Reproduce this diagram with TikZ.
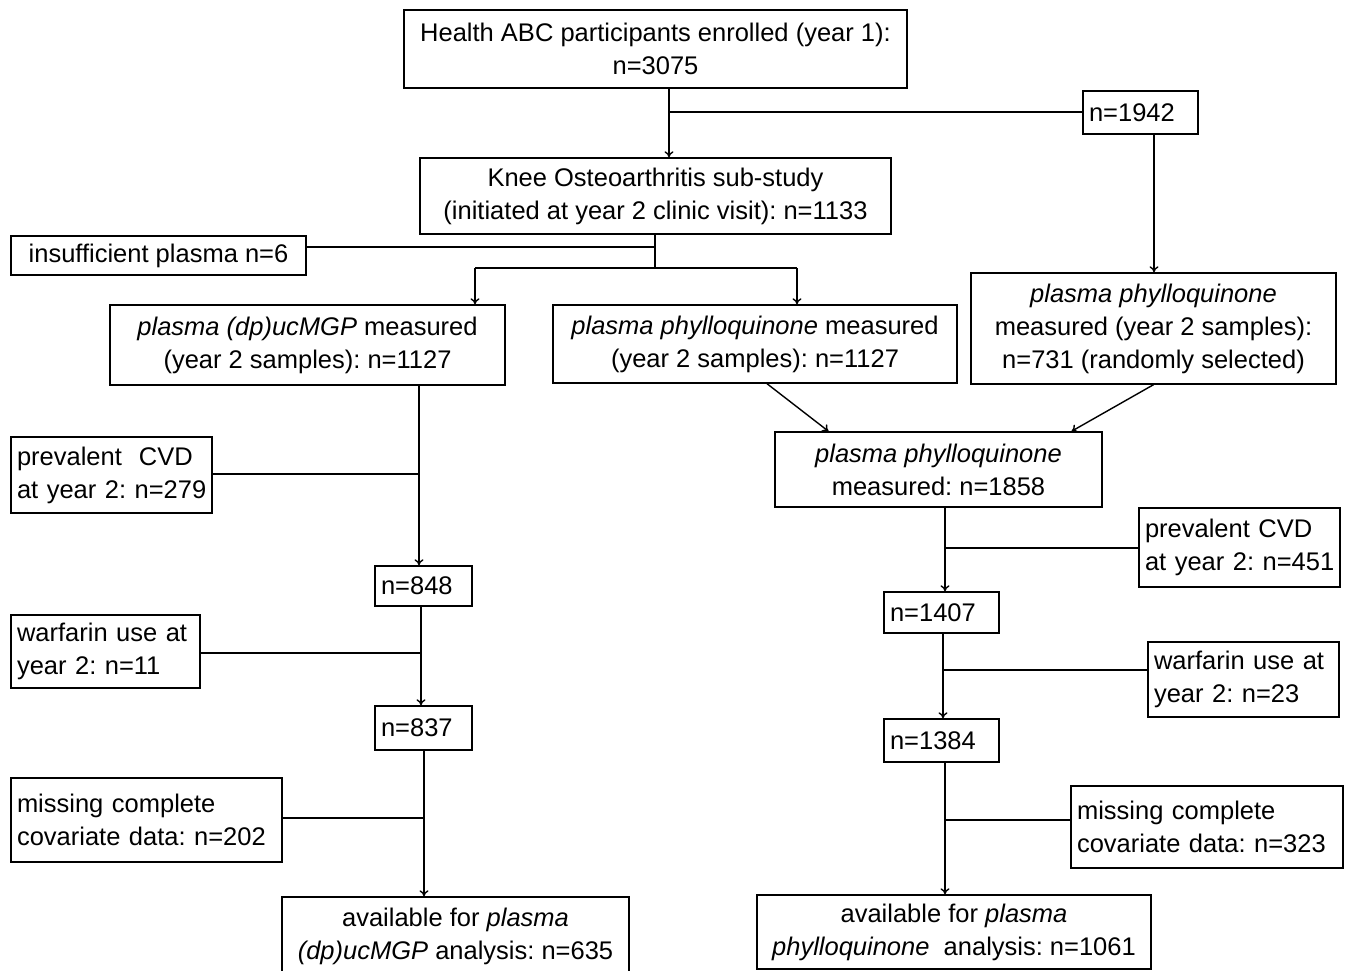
\documentclass[tikz,border=0pt]{standalone}
\usepackage{fontspec}
\setmainfont{Liberation Sans}
\usetikzlibrary{calc,arrows.meta}
\frenchspacing
\begin{document}
\begin{tikzpicture}[x=1pt,y=-1pt,
  box/.style={draw, line width=1.4pt, inner xsep=0pt, inner ysep=0pt, align=center,
    font=\fontsize{25.5}{33}\selectfont},
  lbox/.style={box, align=left, inner xsep=6pt},
  ln/.style={line width=1.4pt},
  arr/.style={ln, -{To[length=6pt,width=9pt]}}]
\useasboundingbox (0,0) rectangle (1352,971);
\fill[white] (0,0) rectangle (1352,971);
% boxes
\node[box, minimum width=503pt, minimum height=78pt] (top) at (655.5,49)
  {Health ABC participants enrolled (year 1):\\ n=3075};
\node[lbox, text width=103pt, minimum height=43pt] (n1942) at (1140.5,112.5) {n=1942};
\node[box, minimum width=471pt, minimum height=76pt] (knee) at (655.5,196)
  {Knee Osteoarthritis sub-study\\ (initiated at year 2 clinic visit): n=1133};
\node[box, minimum width=295pt, minimum height=39pt] (insuf) at (158.5,255.5)
  {insufficient plasma n=6};
\node[box, minimum width=395pt, minimum height=80pt] (mgp) at (307.5,345)
  {\textit{plasma (dp)ucMGP} measured\\ (year 2 samples): n=1127};
\node[box, minimum width=404pt, minimum height=78pt] (phya) at (755,344)
  {\textit{plasma phylloquinone} measured\\ (year 2 samples): n=1127};
\node[box, minimum width=365pt, minimum height=111pt] (phyb) at (1153.5,328.5)
  {\textit{plasma phylloquinone}\\ measured (year 2 samples):\\ n=731 (randomly selected)};
\node[box, minimum width=327pt, minimum height=75pt] (phyc) at (938.5,469.5)
  {\textit{plasma phylloquinone}\\ measured: n=1858};
% left column
\node[lbox, text width=189pt, minimum height=76pt] (cvdL) at (111.5,475)
  {\mbox{prevalent\ \ CVD}\\ \mbox{at year 2: n=279}};
\node[lbox, text width=85pt, minimum height=40pt] (n848) at (423.5,586) {\mbox{n=848}};
\node[lbox, text width=177pt, minimum height=73pt] (warL) at (105.5,651.5)
  {\mbox{warfarin use at}\\ \mbox{year 2: n=11}};
\node[lbox, text width=85pt, minimum height=44pt] (n837) at (423.5,728) {\mbox{n=837}};
\node[lbox, text width=259pt, minimum height=84pt] (misL) at (146.5,820)
  {\mbox{missing complete}\\ \mbox{covariate data: n=202}};
\node[box, minimum width=347pt, minimum height=78pt] (finL) at (455.5,936)
  {available for \textit{plasma}\\ \textit{(dp)ucMGP} analysis: n=635};
% right column
\node[lbox, text width=189pt, minimum height=79pt] (cvdR) at (1239.5,547.5)
  {\mbox{prevalent CVD}\\ \mbox{at year 2: n=451}};
\node[lbox, text width=103pt, minimum height=41pt] (n1407) at (941.5,612.5) {\mbox{n=1407}};
\node[lbox, text width=179pt, minimum height=75pt] (warR) at (1243.5,679.5)
  {\mbox{warfarin use at}\\ \mbox{year 2: n=23}};
\node[lbox, text width=103pt, minimum height=43pt] (n1384) at (941.5,740.5) {\mbox{n=1384}};
\node[lbox, text width=260pt, minimum height=82pt] (misR) at (1207,827)
  {\mbox{missing complete}\\ \mbox{covariate data: n=323}};
\node[box, minimum width=394pt, minimum height=74pt] (finR) at (954,932)
  {available for \textit{plasma}\\ \textit{phylloquinone}\ \ analysis: n=1061};
% junctions
\coordinate (c1) at (669,112);
\coordinate (c2) at (1154,200);
\coordinate (c3) at (655,247);
\coordinate (c4) at (655,268);
\coordinate (c5) at (475,268);
\coordinate (c6) at (797,268);
\coordinate (c8) at (419,474);
\coordinate (c9) at (421,653);
\coordinate (c10) at (424,818);
\coordinate (c11) at (945,548);
\coordinate (c12) at (943,670);
\coordinate (c13) at (945,820);
% connectors
\draw[arr] (top.south -| c1) -- (knee.north -| c1);
\draw[ln] (c1) -- (n1942.west |- c1);
\draw[arr] (n1942.south -| c2) -- (phyb.north -| c2);
\draw[ln] (knee.south -| c3) -- (c4);
\draw[ln] (insuf.east |- c3) -- (c3);
\draw[ln] (c5) -- (c6);
\draw[arr] (c5) -- (mgp.north -| c5);
\draw[arr] (c6) -- (phya.north -| c6);
\draw[arr] ($(phya.south)+(12,0)$) -- ($(phyc.north)+(-110,0)$);
\draw[arr] (phyb.south) -- ($(phyc.north)+(133,0)$);
\draw[arr] (mgp.south -| c8) -- (n848.north -| c8);
\draw[ln] (cvdL.east |- c8) -- (c8);
\draw[arr] (n848.south -| c9) -- (n837.north -| c9);
\draw[ln] (warL.east |- c9) -- (c9);
\draw[arr] (n837.south -| c10) -- (finL.north -| c10);
\draw[ln] (misL.east |- c10) -- (c10);
\draw[arr] (phyc.south -| c11) -- (n1407.north -| c11);
\draw[ln] (c11) -- (cvdR.west |- c11);
\draw[arr] (n1407.south -| c12) -- (n1384.north -| c12);
\draw[ln] (c12) -- (warR.west |- c12);
\draw[arr] (n1384.south -| c13) -- (finR.north -| c13);
\draw[ln] (c13) -- (misR.west |- c13);
\end{tikzpicture}
\end{document}
